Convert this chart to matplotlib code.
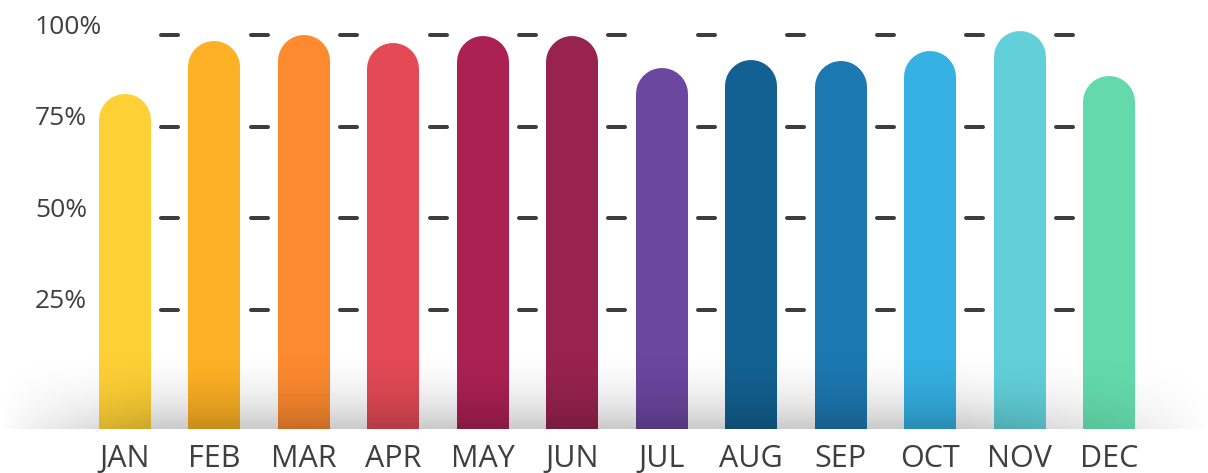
import numpy as np
import matplotlib.pyplot as plt
import matplotlib.transforms as mtransforms

months = ['JAN', 'FEB', 'MAR', 'APR', 'MAY', 'JUN', 'JUL', 'AUG', 'SEP', 'OCT', 'NOV', 'DEC']
values = [84, 98.4, 100, 97.8, 99.7, 99.7, 91, 93.2, 92.9, 95.6, 101.1, 88.8]
colors = ['#FDD035', '#FDB124', '#FD8A2F', '#E34A55', '#AB2152', '#98234D',
          '#6B47A0', '#136192', '#1C78B1', '#35B1E3', '#62D0D9', '#64DAAC']
grid_levels = [25, 50, 75, 100]
grid_labels = ['25%', '50%', '75%', '100%']

W, H = 1208, 473
fig = plt.figure(figsize=(W / 100, H / 100), dpi=100)
ax = fig.add_axes([0, 44 / H, 1, 429 / H])
ax.set_axis_off()

# pixel geometry -> data limits
px_per_cat = 89.45
px_per_pct = 3.665
ax.set_xlim(-125 / px_per_cat, (W - 125) / px_per_cat)
ax.set_ylim(-(429 - 401.5) / px_per_pct, 401.5 / px_per_pct)

x = np.arange(len(months))
bar_px = 52
# thick lines with round caps give the rounded tops; bottom is clipped by the axes
shift = mtransforms.offset_copy(ax.transData, fig=fig, y=-bar_px / 2, units='dots')
ax.vlines(x, -30, values, colors=colors, linewidth=bar_px * 0.72,
          capstyle='round', transform=shift, zorder=2)

# short dashes between bars
half = 8.5 / px_per_cat
for lvl in grid_levels:
    ax.hlines([lvl] * (len(months) - 1), x[:-1] + 0.5 - half, x[:-1] + 0.5 + half,
              colors='#3d3d3d', linewidth=4 * 0.72, capstyle='round', zorder=3)

# shadow at the foot of the bars
yb, y0 = 429, 340
ys = np.linspace(y0, yb, 90)
xs = np.arange(W)
fy = ((ys - y0) / (yb - y0)) ** 2.2
gx = np.clip(xs / 160, 0, 1) ** 0.8 * np.clip((W - xs) / 260, 0, 1) ** 0.8
alpha = 0.21 * fy[:, None] * gx[None, :]
img = np.zeros((len(ys), W, 4))
img[..., 3] = alpha
ax.imshow(img, extent=(ax.get_xlim()[0], ax.get_xlim()[1],
                       ax.get_ylim()[0], (401.5 - y0) / px_per_pct),
          origin='upper', aspect='auto', zorder=2.5, interpolation='bilinear')
ax.set_xlim(-125 / px_per_cat, (W - 125) / px_per_cat)
ax.set_ylim(-(429 - 401.5) / px_per_pct, 401.5 / px_per_pct)

font = ['Open Sans', 'DejaVu Sans']
txt_color = '#3f3f3f'

# y labels, left aligned just above each dash row
ylab_tr = mtransforms.offset_copy(
    mtransforms.blended_transform_factory(ax.transAxes, ax.transData),
    fig=fig, y=1.5, units='dots')
for lvl, lab in zip(grid_levels, grid_labels):
    ax.text(35 / W, lvl, lab, transform=ylab_tr, ha='left', va='baseline',
            fontsize=19, family=font, color=txt_color, clip_on=False)

# month labels
xlab_tr = mtransforms.offset_copy(
    mtransforms.blended_transform_factory(ax.transData, ax.transAxes),
    fig=fig, y=-38, units='dots')
for xi, m in zip(x, months):
    ax.text(xi, 0, m, transform=xlab_tr, ha='center', va='baseline',
            fontsize=22, family=font, color=txt_color, clip_on=False)

fig.savefig('out.png', dpi=100)
